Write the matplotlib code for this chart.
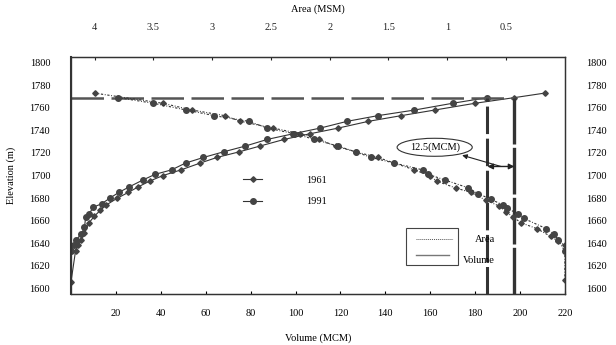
import numpy as np
import matplotlib.pyplot as plt
from matplotlib.lines import Line2D
from matplotlib.patches import Rectangle

plt.rcParams['font.family'] = ['Liberation Serif', 'DejaVu Serif']
plt.rcParams['font.size'] = 7.5

# Elevation-volume curves (MCM)
elev_v61 = [1606, 1633, 1638, 1643, 1649, 1658, 1664, 1669, 1674, 1680, 1685, 1690, 1695, 1700,
            1705, 1711, 1716, 1721, 1726, 1732, 1737, 1742, 1748, 1753, 1758, 1764, 1769, 1773]
vol_61 = [0, 2, 3.2, 4.5, 6, 8, 10.4, 13, 15.8, 20.7, 25.5, 30, 35, 41,
          49, 57.5, 65, 75, 84, 95, 106.5, 119, 132.5, 147, 162, 180, 197.5, 211]

elev_v91 = [1633, 1638, 1643, 1648, 1654, 1663, 1666, 1672, 1675, 1680, 1685, 1690, 1696, 1701,
            1705, 1711, 1716, 1721, 1726, 1732, 1737, 1742, 1748, 1753, 1758, 1764, 1769]
vol_91 = [0, 1.5, 2.3, 4.5, 6, 6.5, 8, 10, 13.7, 17.3, 21.3, 26, 32, 37.4,
          44.8, 51, 59, 68, 77.5, 87.5, 99, 111, 123, 136.6, 153, 170, 185.5]

# Elevation-area curves (MSM)
elev_a61 = [1773, 1764, 1758, 1753, 1748, 1742, 1737, 1732, 1726, 1721, 1716, 1711, 1705, 1700,
            1695, 1689, 1685, 1678, 1673, 1668, 1663, 1658, 1653, 1646, 1642, 1638, 1607]
area_61 = [4.0, 3.42, 3.17, 2.89, 2.76, 2.48, 2.25, 2.09, 1.95, 1.78, 1.59, 1.45, 1.28, 1.15,
           1.09, 0.93, 0.80, 0.67, 0.56, 0.50, 0.44, 0.37, 0.24, 0.12, 0.06, 0.0, 0.0]

elev_a91 = [1769, 1764, 1758, 1753, 1748, 1742, 1737, 1732, 1726, 1721, 1716, 1711, 1705, 1701,
            1696, 1689, 1684, 1679, 1674, 1671, 1666, 1662, 1653, 1648, 1643, 1633]
area_91 = [3.8, 3.5, 3.22, 2.98, 2.69, 2.53, 2.30, 2.13, 1.93, 1.78, 1.65, 1.45, 1.21, 1.16,
           1.02, 0.82, 0.74, 0.63, 0.53, 0.49, 0.40, 0.35, 0.16, 0.09, 0.06, 0.0]

pool_elev = 1769
pool_vol_61 = 197.5
pool_vol_91 = 185.5
loss_label = "12.5(MCM)"

vol_ticks = [20, 40, 60, 80, 100, 120, 140, 160, 180, 200, 220]
area_ticks = [4, 3.5, 3, 2.5, 2, 1.5, 1, 0.5]
elev_ticks = [1600, 1620, 1640, 1660, 1680, 1700, 1720, 1740, 1760, 1780, 1800]

lc = '#333333'
mc = '#444444'

fig = plt.figure(figsize=(6.16, 3.45), dpi=100)
ax = fig.add_axes([0.1153, 0.1478, 0.8017, 0.687])
ax.set_xlim(0, 220)
ax.set_ylim(1595, 1805)

# volume curves
l61, = ax.plot(vol_61, elev_v61, '-', color=lc, lw=0.8, marker='D', ms=2.8, mfc=mc, mec=mc)
l91, = ax.plot(vol_91, elev_v91, '-', color=lc, lw=0.8, marker='o', ms=4, mfc=mc, mec=mc)

# pool level and volume markers
ax.hlines(pool_elev, 0, pool_vol_61, color='#555555', lw=1.8, linestyles=(0, (13, 3)))
ax.vlines(pool_vol_91, 1595, pool_elev, color='#333333', lw=2.2, linestyles=(0, (9, 1.5)))
ax.vlines(pool_vol_61, 1595, pool_elev, color='#333333', lw=2.4, linestyles=(0, (14, 1)))

# annotation
arrow_elev = 1708
ax.annotate('', xy=(pool_vol_61, arrow_elev), xytext=(pool_vol_91, arrow_elev),
            arrowprops=dict(arrowstyle='<|-|>', color='#222222', lw=1, mutation_scale=8,
                            shrinkA=0, shrinkB=0))
ax.annotate(loss_label, xy=((pool_vol_61 + pool_vol_91) / 2, arrow_elev), xytext=(162, 1725),
            ha='center', va='center', fontsize=7.5,
            bbox=dict(boxstyle='ellipse,pad=0.15', fc='white', ec='#333333', lw=0.8),
            arrowprops=dict(arrowstyle='<|-', color='#222222', lw=0.8, mutation_scale=7,
                            shrinkA=2, shrinkB=0))

# area curves on top axis
ax_top = ax.twiny()
ax_top.set_xlim(4.2, 0)
ax_top.plot(area_61, elev_a61, color=lc, lw=0.8, ls=(0, (2, 1.5, 0.8, 1.5)),
            marker='D', ms=2.8, mfc=mc, mec=mc)
ax_top.plot(area_91, elev_a91, color=lc, lw=0.8, ls=(0, (2, 1.5, 0.8, 1.5)),
            marker='o', ms=4, mfc=mc, mec=mc)
ax_top.set_xticks(area_ticks)
ax_top.set_xticklabels([f'{a:g}' for a in area_ticks])
ax_top.tick_params(axis='x', length=2, direction='in', pad=18, colors='#222222')
ax_top.set_xlabel('Area (MSM)', labelpad=8)

ax.set_xticks(vol_ticks)
ax.set_yticks(elev_ticks)
ax.tick_params(axis='x', length=2, direction='in', pad=11)
ax.tick_params(axis='y', length=0, pad=15, labelright=True)
ax.set_xlabel('Volume (MCM)', labelpad=11)
ax.set_ylabel('Elevation (m)', labelpad=10)

for a in (ax, ax_top):
    for s in a.spines.values():
        s.set_color('#333333')
        s.set_linewidth(0.9)
ax.spines['left'].set_linewidth(1.5)

# year legend
ax.legend(handles=[l61, l91], labels=['1961', '1991'], loc='upper left',
          bbox_to_anchor=(0.33, 0.54), frameon=False, handlelength=1.8,
          handletextpad=4.2, labelspacing=1.2, fontsize=7.5)

# curve-type legend
tr = ax.transAxes
ax.add_patch(Rectangle((0.678, 0.124), 0.105, 0.153, transform=tr, fill=False,
                       ec='#444444', lw=0.8))
ax.add_line(Line2D([0.698, 0.773], [0.232, 0.232], transform=tr, color='#555555', lw=0.7,
                   ls=(0, (1, 1))))
ax.add_line(Line2D([0.698, 0.765], [0.165, 0.165], transform=tr, color='#777777', lw=1))
ax.text(0.838, 0.232, 'Area', transform=tr, ha='center', va='center')
ax.text(0.825, 0.14, 'Volume', transform=tr, ha='center', va='center')

fig.savefig('out.png', dpi=100)
